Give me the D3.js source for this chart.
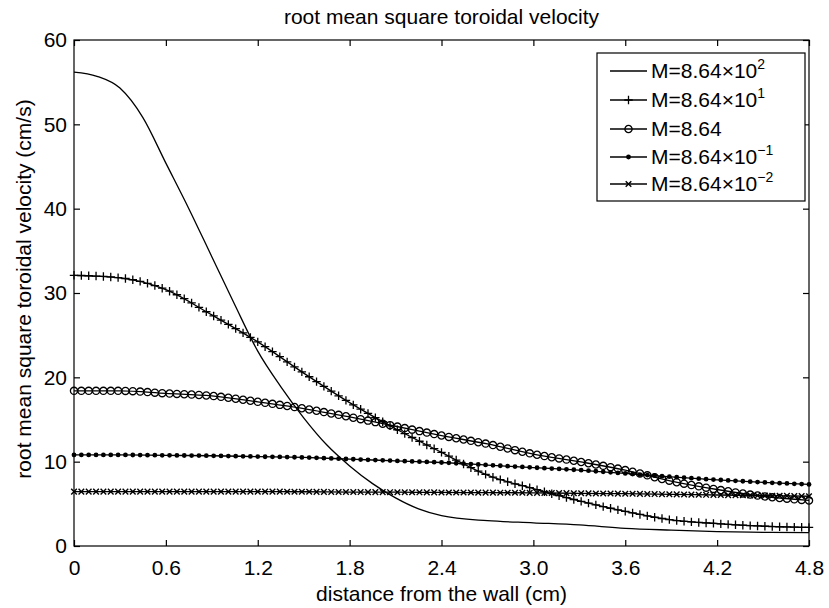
<!DOCTYPE html>
<html>
<head>
<meta charset="utf-8">
<script src="https://cdn.jsdelivr.net/npm/d3@7"></script>
<style>
  body { margin: 0; background: #fff; }
  text { font-family: "Liberation Sans", Arial, sans-serif; fill: #000; }
</style>
</head>
<body>
<div id="chart"></div>
<script>
// values
const xSolid = [0, 0.15, 0.3, 0.45, 0.6, 0.75, 0.9, 1.05, 1.2, 1.35, 1.5, 1.65, 1.8, 1.95, 2.1, 2.25, 2.4, 2.7, 3.0, 3.3, 3.6, 3.9, 4.2, 4.5, 4.8];
const ySolid = [56.2, 55.7, 54.3, 50.8, 45.4, 40.0, 34.3, 28.6, 23.1, 18.9, 15.2, 12.0, 9.5, 7.4, 5.7, 4.4, 3.6, 3.0, 2.75, 2.5, 2.1, 1.88, 1.7, 1.62, 1.58];
const xGrid = [0, 0.3, 0.6, 0.9, 1.2, 1.5, 1.8, 2.1, 2.4, 2.7, 3.0, 3.3, 3.6, 3.9, 4.2, 4.5, 4.8];
const yPlus = [32.1, 31.8, 30.4, 27.4, 24.2, 20.5, 17.0, 13.9, 11.1, 8.4, 6.8, 5.35, 4.1, 3.1, 2.65, 2.35, 2.2];
const yCircle = [18.4, 18.4, 18.1, 17.8, 17.1, 16.3, 15.3, 14.2, 13.1, 12.1, 10.9, 10.0, 9.0, 7.7, 6.7, 5.9, 5.4];
const yDot = [10.8, 10.8, 10.75, 10.7, 10.6, 10.5, 10.3, 10.1, 9.9, 9.6, 9.3, 9.0, 8.6, 8.2, 7.85, 7.55, 7.3];
const yCross = [6.45, 6.45, 6.45, 6.45, 6.45, 6.43, 6.4, 6.38, 6.35, 6.33, 6.3, 6.25, 6.2, 6.13, 6.05, 5.98, 5.9];

const xTicks = [0, 0.6, 1.2, 1.8, 2.4, 3.0, 3.6, 4.2, 4.8];
const yTicks = [0, 10, 20, 30, 40, 50, 60];
const legendBase = ["M=8.64\u00d710", "M=8.64\u00d710", "M=8.64", "M=8.64\u00d710", "M=8.64\u00d710"];
const legendExp = ["2", "1", "", "\u22121", "\u22122"];
const markerStep = 0.048;

const W = 829, H = 608;
const margin = { top: 40, right: 20, bottom: 62, left: 74 };
const width = W - margin.left - margin.right;
const height = H - margin.top - margin.bottom;
const fontSize = "21px";

const svg = d3.select("#chart").append("svg")
  .attr("width", W).attr("height", H);

const g = svg.append("g")
  .attr("transform", "translate(" + margin.left + "," + margin.top + ")");

const x = d3.scaleLinear().domain([0, 4.8]).range([0, width]);
const y = d3.scaleLinear().domain([0, 60]).range([height, 0]);

// axes, ticks pointing inward on all four sides
const fmtX = d => d === 0 ? "0" : d3.format(".1f")(d);
g.append("g").attr("class", "axis")
  .attr("transform", "translate(0," + height + ")")
  .call(d3.axisBottom(x).tickValues(xTicks).tickSize(-6).tickPadding(14).tickFormat(fmtX));
g.append("g").attr("class", "axis")
  .call(d3.axisTop(x).tickValues(xTicks).tickSize(-6).tickFormat(""));
g.append("g").attr("class", "axis")
  .call(d3.axisLeft(y).tickValues(yTicks).tickSize(-6).tickPadding(7));
g.append("g").attr("class", "axis")
  .attr("transform", "translate(" + width + ",0)")
  .call(d3.axisRight(y).tickValues(yTicks).tickSize(-6).tickFormat(""));

g.selectAll(".axis .domain").remove();
g.selectAll(".axis line").attr("stroke", "#000").attr("stroke-width", 1.2);
g.selectAll(".axis text").style("font-size", fontSize).attr("fill", "#000");

g.append("rect")
  .attr("width", width).attr("height", height)
  .attr("fill", "none").attr("stroke", "#000").attr("stroke-width", 1.2);

// lines
const line = d3.line()
  .x(d => x(d[0]))
  .y(d => y(d[1]))
  .curve(d3.curveMonotoneX);

const markers = {
  plus: sel => sel.append("path").attr("d", "M-4.2,0H4.2M0,-4.2V4.2").attr("stroke", "#000").attr("stroke-width", 1.3).attr("fill", "none"),
  circle: sel => sel.append("circle").attr("r", 3.6).attr("stroke", "#000").attr("stroke-width", 1.3).attr("fill", "none"),
  dot: sel => sel.append("circle").attr("r", 2.4).attr("fill", "#000"),
  cross: sel => sel.append("path").attr("d", "M-2.8,-2.8L2.8,2.8M-2.8,2.8L2.8,-2.8").attr("stroke", "#000").attr("stroke-width", 1.4).attr("fill", "none")
};

const series = [
  { xs: xSolid, ys: ySolid, marker: null },
  { xs: xGrid, ys: yPlus, marker: "plus" },
  { xs: xGrid, ys: yCircle, marker: "circle" },
  { xs: xGrid, ys: yDot, marker: "dot" },
  { xs: xGrid, ys: yCross, marker: "cross" }
];

// find the point on a drawn path at a given pixel x
function pointAtX(node, px) {
  let lo = 0, hi = node.getTotalLength();
  for (let i = 0; i < 30; i++) {
    const mid = (lo + hi) / 2;
    if (node.getPointAtLength(mid).x < px) lo = mid; else hi = mid;
  }
  return node.getPointAtLength((lo + hi) / 2);
}

const markerXs = d3.range(101).map(i => i * markerStep);

series.forEach(s => {
  const pts = s.xs.map((v, i) => [v, s.ys[i]]);
  const path = g.append("path")
    .datum(pts)
    .attr("fill", "none")
    .attr("stroke", "#000")
    .attr("stroke-width", 1.3)
    .attr("d", line);
  if (s.marker) {
    const node = path.node();
    const mg = g.append("g");
    markerXs.forEach(mx => {
      const p = pointAtX(node, x(mx));
      const m = mg.append("g").attr("transform", "translate(" + x(mx) + "," + p.y + ")");
      markers[s.marker](m);
    });
  }
});

// title and axis labels
svg.append("text")
  .attr("x", margin.left + width / 2).attr("y", 24)
  .attr("text-anchor", "middle").style("font-size", fontSize)
  .text("root mean square toroidal velocity");

svg.append("text")
  .attr("x", margin.left + width / 2).attr("y", 601)
  .attr("text-anchor", "middle").style("font-size", fontSize)
  .text("distance from the wall (cm)");

svg.append("text")
  .attr("transform", "translate(31,289) rotate(-90)")
  .attr("text-anchor", "middle").style("font-size", fontSize)
  .text("root mean square toroidal velocity (cm/s)");

// legend
const legend = svg.append("g").attr("transform", "translate(597,53)");
legend.append("rect")
  .attr("width", 208).attr("height", 148)
  .attr("fill", "#fff").attr("stroke", "#000").attr("stroke-width", 1.2);

const rowY = [18, 47, 76, 104, 131];
series.forEach((s, i) => {
  const row = legend.append("g").attr("transform", "translate(0," + rowY[i] + ")");
  row.append("line").attr("x1", 13).attr("x2", 50).attr("stroke", "#000").attr("stroke-width", 1.3);
  if (s.marker) markers[s.marker](row.append("g").attr("transform", "translate(31.5,0)"));
  const t = row.append("text").attr("x", 54).attr("y", 7).style("font-size", fontSize);
  t.append("tspan").text(legendBase[i]);
  if (legendExp[i]) {
    t.append("tspan").attr("dy", -9).style("font-size", "14px").text(legendExp[i]);
  }
});
</script>
</body>
</html>
